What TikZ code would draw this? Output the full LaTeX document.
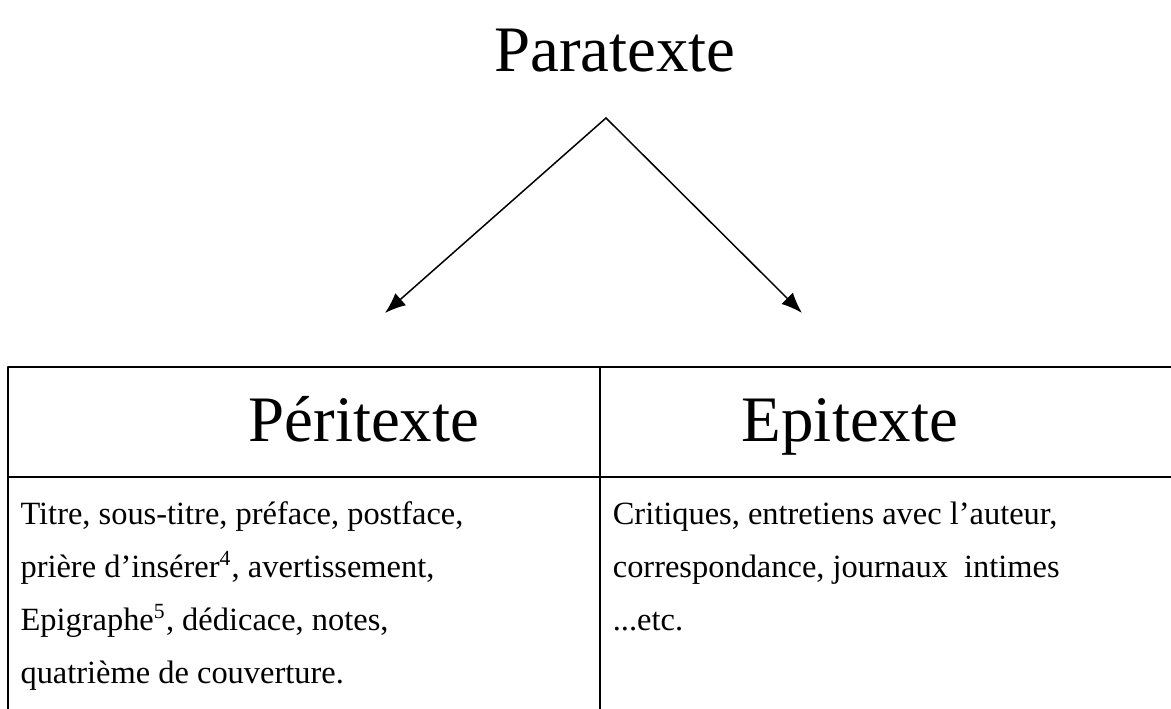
\documentclass[tikz,border=0pt]{standalone}
\usepackage{fontspec}
\setmainfont{Liberation Serif}
\usetikzlibrary{arrows.meta,positioning}

\tikzset{
	head/.style={anchor=base, inner sep=0pt, font=\fontsize{24}{28}\selectfont},
	cell/.style={anchor=base west, inner sep=0pt, font=\fontsize{12}{14}\selectfont},
	rule/.style={line width=1.1pt, line cap=rect}
}

\begin{document}
\begin{tikzpicture}[>={Latex[length=2.7mm,width=2.1mm]}, line join=round, line cap=round]
		
		% Page frame
		\useasboundingbox (0,0) rectangle (15.223,9.217);
		
		% Coordinates
		\coordinate (Apex) at (7.878, 7.683);
		\coordinate (PeriTip) at (5.005, 5.148);
		\coordinate (EpiTip) at (10.426, 5.148);
		
		% Table grid points
		\coordinate (TL) at (0.104, 4.446);
		\coordinate (TR) at (15.5, 4.446);
		\coordinate (ML) at (0.104, 3.016);
		\coordinate (MR) at (15.5, 3.016);
		\coordinate (BL) at (0.104, -0.3);
		\coordinate (DivTop) at (7.80, 4.446);
		\coordinate (DivBot) at (7.80, -0.3);
		
		% 1. Title
		\node[head] (para) at (7.995, 8.281) {Paratexte};
		
		% 2. Arrows down to both columns
		\draw[->, line width=0.55pt] (Apex) -- (PeriTip);
		\draw[->, line width=0.55pt] (Apex) -- (EpiTip);
		
		% 3. Table rules
		\draw[rule] (TR) -- (TL) -- (BL);
		\draw[rule] (ML) -- (MR);
		\draw[rule] (DivTop) -- (DivBot);
		
		% 4. Column headings
		\node[head] (peri) at (4.73, 3.471) {Péritexte};
		\node[head] (epi) at (11.05, 3.471) {Epitexte};
		
		% 5. Left cell, one line each (line pitch 0.685)
		\foreach \txt [count=\i] in {
			{Titre, sous-titre, préface, postface,},
			{prière d’insérer\textsuperscript{4}, avertissement,},
			{Epigraphe\textsuperscript{5}, dédicace, notes,},
			{quatrième de couverture.}}
			\node[cell] (peri-\i) at (0.26, {2.392-(\i-1)*0.685}) {\txt};
		
		% 6. Right cell
		\node[cell] (epi-1) at (7.96, 2.392) {Critiques, entretiens avec l’auteur,};
		\node[cell] (epi-2) at (7.96, 1.707) {correspondance, journaux~ intimes};
		\node[cell] (epi-3) at (7.96, 1.022) {...etc.};
		
	\end{tikzpicture}
\end{document}
